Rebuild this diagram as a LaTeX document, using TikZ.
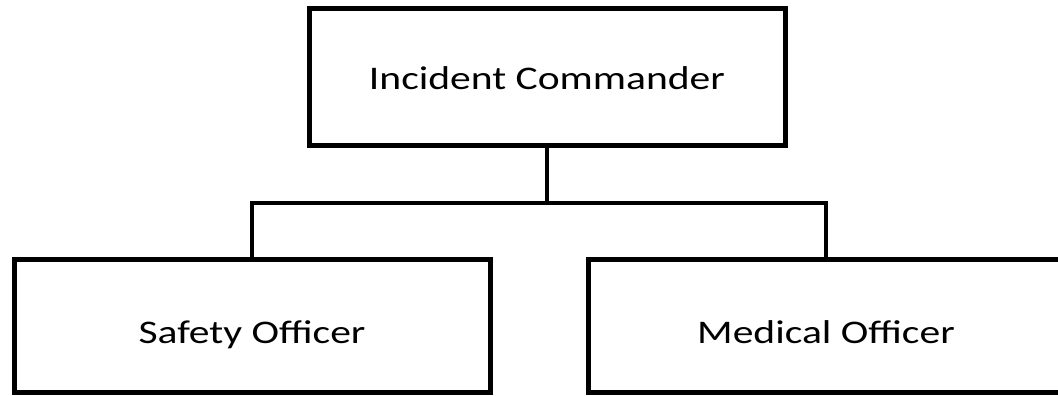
\documentclass[tikz,border=0pt]{standalone}
\usepackage{fontspec}
\usepackage{graphicx}
\setmainfont{Carlito}
\newcommand{\wide}[1]{\scalebox{1.26}[1]{#1}}
\begin{document}
\begin{tikzpicture}[x=1pt,y=-1pt,
  orgbox/.style={draw=black,line width=5pt,minimum width=476pt,minimum height=134pt,
    inner sep=0pt,text depth=0pt,font=\fontsize{33}{40}\selectfont},
  link/.style={draw=black,line width=3.5pt}]
\clip (0,0) rectangle (1058,396);
\fill[white] (0,0) rectangle (1058,396);
\node[orgbox,minimum height=136pt,text height=24pt] (ic) at (547,77) {\wide{Incident Commander}};
\node[orgbox,minimum height=133pt,text height=35pt] (so) at (252,325.5) {\wide{Safety Officer}};
\node[orgbox,minimum height=133pt,text height=35pt] (mo) at (826,325.5) {\wide{Medical Officer}};
\coordinate (j) at (547,203);
\draw[link] (ic.south) -- (j);
\draw[link,line join=miter] (so.north) -- (so.north |- j) -- (mo.north |- j) -- (mo.north);
\end{tikzpicture}
\end{document}
